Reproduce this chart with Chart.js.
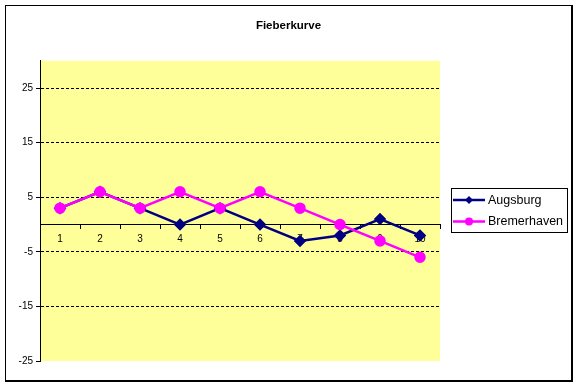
<!DOCTYPE html>
<html>
<head>
<meta charset="utf-8">
<script src="https://cdn.jsdelivr.net/npm/chart.js@4.4.1/dist/chart.umd.min.js"></script>
<style>
  html, body { margin: 0; padding: 0; background: #fff; }
  #frame {
    position: absolute; left: 5px; top: 5px;
    width: 565px; height: 374px;
    border-style: solid; border-color: #000;
    border-width: 1px 2px 2px 1px;
  }
  canvas { display: block; }
</style>
</head>
<body>
<div id="frame"><canvas id="fieber" width="565" height="374"></canvas></div>
<script>
// data
const days = ['1', '2', '3', '4', '5', '6', '7', '8', '9', '10'];
const augsburg = [3, 6, 3, 0, 3, 0, -3, -2, 1, -2];
const bremerhaven = [3, 6, 3, 6, 3, 6, 3, 0, -3, -6];
const yTicks = [-25, -15, -5, 5, 15, 25];
const yMin = -25;
const yMax = 30;

const FONT = "'Liberation Sans', Arial, sans-serif";

// yellow plot area like the old Excel default
const plotBackground = {
    id: 'plotBackground',
    beforeDraw(chart) {
        const { ctx, chartArea: a } = chart;
        ctx.save();
        ctx.fillStyle = '#FFFF99';
        ctx.fillRect(a.left, a.top, a.width, a.height);
        ctx.restore();
    }
};

// legend with a frame, line + marker per series
const boxedLegend = {
    id: 'boxedLegend',
    afterDraw(chart) {
        const { ctx, chartArea: a } = chart;
        const left = a.right + 11;
        const top = 182;
        const w = 116;
        const h = 44;
        ctx.save();
        ctx.fillStyle = '#fff';
        ctx.fillRect(left, top, w, h);
        ctx.strokeStyle = '#000';
        ctx.lineWidth = 1;
        ctx.strokeRect(left + 0.5, top + 0.5, w, h);

        chart.data.datasets.forEach((ds, i) => {
            const y = top + 12 + i * 21.5;
            ctx.strokeStyle = ds.borderColor;
            ctx.lineWidth = 2.5;
            ctx.beginPath();
            ctx.moveTo(left + 2, y);
            ctx.lineTo(left + 34, y);
            ctx.stroke();

            const cx = left + 18;
            const r = 4;
            ctx.fillStyle = ds.pointBackgroundColor;
            ctx.beginPath();
            if (ds.pointStyle === 'rectRot') {
                ctx.moveTo(cx - r, y);
                ctx.lineTo(cx, y - r);
                ctx.lineTo(cx + r, y);
                ctx.lineTo(cx, y + r);
                ctx.closePath();
            } else {
                ctx.arc(cx, y, r, 0, Math.PI * 2);
            }
            ctx.fill();

            ctx.fillStyle = '#000';
            ctx.font = '12.5px ' + FONT;
            ctx.textBaseline = 'middle';
            ctx.textAlign = 'left';
            ctx.fillText(ds.label, left + 37, y + 0.5);
        });
        ctx.restore();
    }
};

const ctx = document.getElementById('fieber').getContext('2d');

new Chart(ctx, {
    type: 'line',
    data: {
        labels: days,
        datasets: [
            {
                label: 'Augsburg',
                data: augsburg,
                borderColor: '#000080',
                backgroundColor: '#000080',
                pointBackgroundColor: '#000080',
                pointBorderColor: '#000080',
                pointStyle: 'rectRot',
                pointRadius: 4.5,
                borderWidth: 2.5,
                tension: 0,
                order: 1
            },
            {
                label: 'Bremerhaven',
                data: bremerhaven,
                borderColor: '#FF00FF',
                backgroundColor: '#FF00FF',
                pointBackgroundColor: '#FF00FF',
                pointBorderColor: '#FF00FF',
                pointStyle: 'circle',
                pointRadius: 4.5,
                borderWidth: 2.5,
                tension: 0,
                order: 0
            }
        ]
    },
    options: {
        responsive: false,
        animation: false,
        devicePixelRatio: 1,
        layout: {
            padding: { left: 0, right: 0, top: 0, bottom: 19 }
        },
        plugins: {
            legend: { display: false },
            tooltip: { enabled: false },
            title: {
                display: true,
                text: 'Fieberkurve',
                color: '#000',
                font: { family: FONT, size: 11.5, weight: 'bold', lineHeight: 1.2 },
                padding: { top: 13, bottom: 28 }
            }
        },
        scales: {
            x: {
                position: { y: 0 },
                offset: true,
                grid: {
                    offset: true,
                    drawOnChartArea: false,
                    tickLength: 4,
                    tickColor: '#000'
                },
                border: { color: '#000', width: 1 },
                ticks: {
                    color: '#000',
                    font: { family: FONT, size: 10 },
                    padding: 5,
                    maxRotation: 0,
                    autoSkip: false
                }
            },
            y: {
                min: yMin,
                max: yMax,
                afterBuildTicks: (scale) => {
                    scale.ticks = yTicks.map(v => ({ value: v }));
                },
                afterFit: (scale) => {
                    scale.width = 34;
                },
                grid: {
                    color: (c) => (c.tick && (c.tick.value === 0 || c.tick.value === yMin)) ? 'rgba(0,0,0,0)' : '#000',
                    lineWidth: 1,
                    tickLength: 4,
                    tickColor: '#000'
                },
                border: { color: '#000', width: 1, dash: [3, 2] },
                ticks: {
                    color: '#000',
                    font: { family: FONT, size: 10 },
                    padding: 3
                }
            },
            // empty axis on the right that only keeps room for the legend
            legendRoom: {
                type: 'linear',
                axis: 'y',
                position: 'right',
                display: true,
                grid: { display: false },
                border: { display: false },
                ticks: { display: false },
                afterFit: (scale) => {
                    scale.width = 131;
                }
            }
        }
    },
    plugins: [plotBackground, boxedLegend]
});
</script>
</body>
</html>
